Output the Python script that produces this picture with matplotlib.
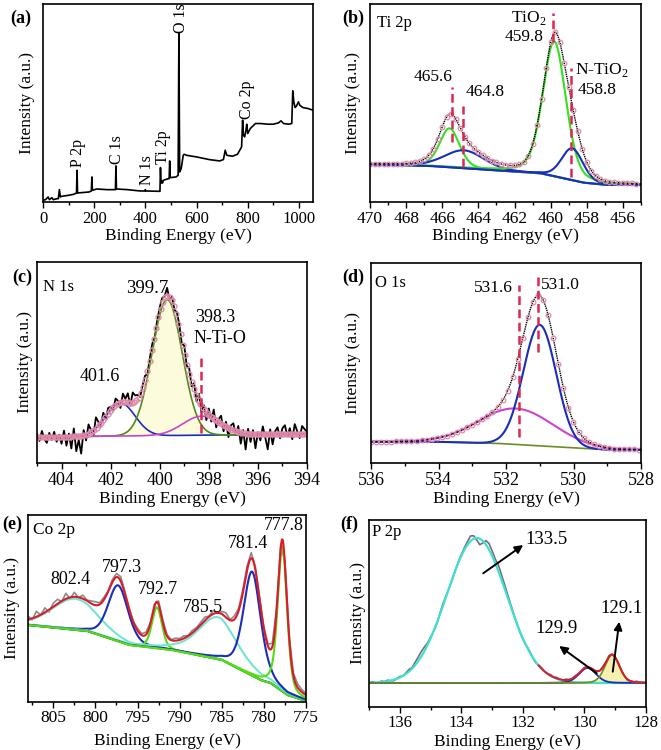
import numpy as np
import matplotlib
matplotlib.use("Agg")
import matplotlib.pyplot as plt
from matplotlib.ticker import MultipleLocator

plt.rcParams['font.family'] = ['Liberation Serif', 'DejaVu Serif']
plt.rcParams['mathtext.fontset'] = 'custom'
plt.rcParams['mathtext.rm'] = 'Liberation Serif'

# ---------------- data ----------------
# (a) survey spectrum
survey_be = [0, 10, 20, 25, 35, 40, 55, 60, 64, 68, 72, 100, 120, 131, 133, 135, 150, 180, 189, 191, 193,
             210, 250, 283, 285, 287, 330, 380, 398, 400, 402, 455, 457, 459, 461, 463, 465, 467, 470, 490,
             493, 495, 497, 520, 528, 531, 534, 540, 548, 552, 560, 600, 650, 690, 705, 712, 718, 740, 760,
             776, 780, 783, 788, 793, 796, 800, 810, 830, 850, 880, 900, 920, 930, 940, 960, 972, 976, 980,
             985, 990, 998, 1003, 1015, 1035, 1055]
survey_int = [5, 7, 15, 7, 13, 7, 10, 10, 37, 15, 17, 20, 23, 27, 95, 27, 28, 30, 33, 75, 35,
              39, 37, 37, 108, 39, 37, 33, 33, 37, 33, 32, 32, 103, 60, 57, 62, 57, 65, 70,
              70, 123, 73, 75, 80, 505, 90, 100, 140, 143, 140, 135, 127, 123, 127, 155, 140, 137, 143,
              165, 245, 200, 195, 215, 233, 205, 220, 235, 235, 233, 233, 237, 243, 235, 233, 235, 333, 300,
              283, 287, 300, 290, 283, 280, 275]
survey_labels = ["P 2p", "C 1s", "N 1s", "Ti 2p", "O 1s", "Co 2p"]
survey_label_be = [135, 290, 406, 467, 540, 796]
survey_label_int = [105, 115, 50, 115, 505, 250]

# (b) Ti 2p
ti_centers = [465.6, 464.8, 459.8, 458.8]
ti_heights = [39, 18, 135, 32]
ti_fwhm = [1.3, 2.6, 1.5, 1.4]
ti_eta = [0.3, 0.2, 0.3, 0.2]
ti_bg_be = [470, 466.7, 464.8, 462, 460.6, 459.3, 458.2, 456.9, 455]
ti_bg_int = [37.7, 36, 33.7, 30.3, 28.7, 23.7, 19.3, 17, 17]

# (c) N 1s
n_centers = [401.6, 399.7, 398.3]
n_heights = [33, 136, 19]
n_fwhm = [1.4, 1.45, 1.8]
n_bg_be = [405, 394]
n_bg_int = [26, 29]
n_raw_be_step = 0.1
n_residual = [3, -4, 6, -2, -6, 4, -3, 5, -5, 2, -7,
              6, -9, 3, -12, 8, -15, -4, -18, 5, -6,
              9, 2, -5, 11, 4, -3, 7, -2, 5, 3,
              -4, 6, 2, -6, 8, 3, 9, -3, 10, 6,
              4, -2, 3, 5, -3, 2, 4, -2, 3, 5,
              6, 2, 8, -3, 4, -2, 5, 3, -4, 6,
              -3, 5, -4, 7, -5, 8, -6, 4, -8, 6,
              -5, 9, -7, 3, 8, -6, 5, -9, 4, 7,
              -4, 6, -11, 3, -16, 5, -8, 4, -14, 2,
              -6, 8, -3, -15, 5, -10, 3, 7, -4, 6,
              9, -2, 6, -5, 10, 3, -4, 8, 5, 2]

# (d) O 1s
o_centers = [531.7, 531.0]
o_heights = [36, 121]
o_fwhm = [2.6, 1.15]
o_bg_be = [536, 534.2, 532.3, 530.3, 529, 528]
o_bg_int = [21.3, 21.3, 19.7, 15.7, 13.3, 13.3]

# (e) Co 2p
co_centers = [802.4, 797.3, 792.7, 785.5, 781.4, 777.8]
co_heights = [31, 56, 41, 42, 104, 145]
co_fwhm = [6.5, 2.8, 1.4, 5.5, 2.4, 1.3]
co_eta = [0.2, 0.3, 0.3, 0.5, 0.4, 0.4]
co_bg_be = [808, 801, 796, 791, 785, 780.4, 779.2, 777.2, 775]
co_bg_int = [77, 71, 57, 52, 42, 22, 19, 7, 1]
co_residual = [2, -3, 4, -2, 3, -4, 2, 3, -2, 4,
               -3, 3, -2, 2, -1, 1, 2, 0, 1, -1,
               1, 2, 3, 1, 0, -1, 1, 0, 1, 0,
               1, 2, 1, 0, -1, 1, 0, 1, -1, 1,
               0, 1, 2, -1, 2, -2, 1, 3, -1, 2,
               1, 2, 3, 4, 2, 1, 0, 1, 2, 1,
               2, 1, 0, 1, 2, 1, 0]

# (f) P 2p
p_centers = [133.5, 129.9, 129.1]
p_heights = [145, 15, 28]
p_fwhm = [2.3, 0.65, 0.55]
p_eta = [0.0, 0.2, 0.2]
p_bg = 24
p_residual = [0, 1, 0, -1, 1, 0, 1, 0, -1, 0,
              1, 0, 1, 2, 1, 3, 4, 5, 4, 2,
              1, 0, -1, 1, 2, 1, 0, -1, 0, 1,
              1, 2, 3, 5, 3, -2, -6, -2, 4, 6,
              5, 4, 6, 5, 4, 3, 2, 1, 0, -1,
              -1, 0, 1, 0, -1, 0, 1, 0, 0, 1,
              0, 1, 0, -1, 1, 0, 0, 1, 0, 0,
              1, 0, 0, -1, 0, 0, 1, 0, 1, 0,
              0, 1, 0, 0, -1, 0, 0, 1, 0, 0,
              0]


def pv(x, c, a, w, eta=0.0):
    g = np.exp(-4 * np.log(2) * ((x - c) / w) ** 2)
    l = 1.0 / (1 + 4 * ((x - c) / w) ** 2)
    return a * ((1 - eta) * g + eta * l)


# ---------------- figure ----------------
W, H = 661, 750
fig = plt.figure(figsize=(W / 100, H / 100), dpi=100)


def add_ax(l, t, r, b):
    return fig.add_axes([l / W, 1 - b / H, (r - l) / W, (b - t) / H])


FS = 12.5      # tick and axis labels
TFS = 12       # element titles
NFS = 12.5     # peak numbers
RED = '#dc2850'
BLUE = '#1a2dbb'
PINK = '#e08aa8'


def style(ax, xlim, ylim, major, minor, tfs=FS, pad=2.5):
    ax.set_xlim(*xlim)
    ax.set_ylim(*ylim)
    ax.xaxis.set_major_locator(MultipleLocator(major))
    ax.xaxis.set_minor_locator(MultipleLocator(minor))
    ax.set_yticks([])
    ax.tick_params(axis='x', which='major', direction='out', length=4, width=1, pad=pad, labelsize=tfs)
    ax.tick_params(axis='x', which='minor', direction='out', length=2.5, width=1)
    for s in ax.spines.values():
        s.set_linewidth(1.2)


def ftext(x, y, s, **kw):
    fig.text(x / W, 1 - y / H, s, **kw)


def vdash(ax, x, y0, y1):
    ax.plot([x, x], [y0, y1], color=RED, lw=1.8, ls=(0, (3.5, 1.8)), zorder=6)


# ---- (a)
ax = add_ax(43, 4, 313, 202)
ax.plot(survey_be, survey_int, color='black', lw=1.2)
for lab, xb, yb in zip(survey_labels, survey_label_be, survey_label_int):
    ax.text(xb, yb, lab, rotation=90, ha='center', va='bottom', fontsize=11.5)
style(ax, (0, 1055), (0, 593), 200, 100, tfs=12)

# ---- (b)
ax = add_ax(370, 4, 641, 202)
x = np.linspace(470, 455, 600)
bg = np.interp(x, ti_bg_be[::-1], ti_bg_int[::-1])
comps = [pv(x, c, a, w, e) for c, a, w, e in zip(ti_centers, ti_heights, ti_fwhm, ti_eta)]
env = bg + sum(comps)
ax.plot(x, bg, color=BLUE, lw=1.3)
ti_cols = ['#33e022', BLUE, '#33e022', BLUE]
for comp, col in zip(comps, ti_cols):
    ax.plot(x, bg + comp, color=col, lw=1.5)
ax.plot(x, env, color='black', lw=1.0, ls=(0, (1, 0.6)))
xc = np.arange(470, 455, -0.25)
bgc = np.interp(xc, ti_bg_be[::-1], ti_bg_int[::-1])
envc = bgc + sum(pv(xc, c, a, w, e) for c, a, w, e in zip(ti_centers, ti_heights, ti_fwhm, ti_eta))
ax.plot(xc, envc, ls='none', marker='o', ms=3.3, mfc='none', mec=PINK, mew=0.9)
vdash(ax, 465.45, 60, 115)
vdash(ax, 464.84, 35, 96)
vdash(ax, 459.89, 160, 189)
vdash(ax, 458.9, 25, 134)
ax.text(469.6, 178.7, 'Ti 2p', ha='left', va='center', fontsize=TFS)
ax.text(461.24, 183.7, 'TiO$_2$', ha='center', va='center', fontsize=NFS)
ax.text(461.5, 165.3, '459.8', ha='center', va='center', fontsize=NFS)
ax.text(466.5, 124.7, '465.6', ha='center', va='center', fontsize=NFS)
ax.text(463.64, 110.3, '464.8', ha='center', va='center', fontsize=NFS)
ax.text(457.18, 132, 'N-TiO$_2$', ha='center', va='center', fontsize=NFS)
ax.text(457.45, 112, '458.8', ha='center', va='center', fontsize=NFS)
style(ax, (470, 455), (0, 198), 2, 1)

# ---- (c)
ax = add_ax(37, 262, 307, 463)
x = np.linspace(405, 394, 600)
bg = np.interp(x, n_bg_be[::-1], n_bg_int[::-1])
comps = [pv(x, c, a, w) for c, a, w in zip(n_centers, n_heights, n_fwhm)]
ax.fill_between(x, bg, bg + comps[1], color='#fcfcdc', lw=0)
xr = 405 - n_raw_be_step * np.arange(len(n_residual))
bgr = np.interp(xr, n_bg_be[::-1], n_bg_int[::-1])
envr = bgr + sum(pv(xr, c, a, w) for c, a, w in zip(n_centers, n_heights, n_fwhm))
ax.plot(xr, envr + np.array(n_residual), color='black', lw=1.3)
n_cols = [BLUE, '#4d8c1a', '#cc44cc']
for comp, col in zip(comps, n_cols):
    ax.plot(x, bg + comp, color=col, lw=1.2)
xc = np.arange(405, 394, -0.09)
bgc = np.interp(xc, n_bg_be[::-1], n_bg_int[::-1])
envc = bgc + sum(pv(xc, c, a, w) for c, a, w in zip(n_centers, n_heights, n_fwhm))
ax.plot(xc, envc, ls='none', marker='o', ms=3.5, mfc='none', mec=PINK, mew=1.0)
vdash(ax, 398.33, 30, 108)
ax.text(404.74, 176.3, 'N 1s', ha='left', va='center', fontsize=TFS)
ax.text(400.53, 174.7, '399.7', ha='center', va='center', fontsize=13.5)
ax.text(397.75, 145.7, '398.3', ha='center', va='center', fontsize=13)
ax.text(397.55, 124.7, 'N-Ti-O', ha='center', va='center', fontsize=13)
ax.text(402.43, 86.3, '401.6', ha='center', va='center', fontsize=13)
style(ax, (405, 394), (0, 201), 2, 1, tfs=13)

# ---- (d)
ax = add_ax(371, 263, 641, 463)
x = np.linspace(536, 528, 600)
bg = np.interp(x, o_bg_be[::-1], o_bg_int[::-1])
comps = [pv(x, c, a, w) for c, a, w in zip(o_centers, o_heights, o_fwhm)]
env = bg + sum(comps)
ax.plot(x, bg, color='#6b8e23', lw=1.2)
ax.plot(x, bg + comps[0], color='#cc44cc', lw=1.5)
ax.plot(x, bg + comps[1], color=BLUE, lw=1.5)
ax.plot(x, env, color='black', lw=1.0, ls=(0, (1, 0.6)))
xc = np.arange(536, 528, -0.15)
bgc = np.interp(xc, o_bg_be[::-1], o_bg_int[::-1])
envc = bgc + sum(pv(xc, c, a, w) for c, a, w in zip(o_centers, o_heights, o_fwhm))
ax.plot(xc, envc, ls='none', marker='o', ms=3.3, mfc='none', mec=PINK, mew=0.9)
vdash(ax, 531.62, 26, 178)
vdash(ax, 531.06, 111, 190)
ax.text(535.88, 179.7, 'O 1s', ha='left', va='center', fontsize=TFS)
ax.text(532.38, 174.7, '531.6', ha='center', va='center', fontsize=NFS)
ax.text(530.4, 178, '531.0', ha='center', va='center', fontsize=NFS)
style(ax, (536, 528), (0, 200), 2, 1, tfs=13)

# ---- (e)
ax = add_ax(28, 515, 306, 702)
x = np.linspace(808, 775, 800)
bg = np.interp(x, co_bg_be[::-1], co_bg_int[::-1])
comps = [pv(x, c, a, w, e) for c, a, w, e in zip(co_centers, co_heights, co_fwhm, co_eta)]
env = bg + sum(comps)
xr = 808 - 0.5 * np.arange(len(co_residual))
bgr = np.interp(xr, co_bg_be[::-1], co_bg_int[::-1])
envr = bgr + sum(pv(xr, c, a, w, e) for c, a, w, e in zip(co_centers, co_heights, co_fwhm, co_eta))
ax.plot(xr, envr + np.array(co_residual) + 1.5, color='#8a8a8a', lw=1.2)
ax.plot(x, bg, color='#66d022', lw=1.4)
co_cols = ['#70e6d0', BLUE, '#55dd11', '#70e6d0', BLUE, '#55dd11']
for comp, col in zip(comps, co_cols):
    ax.plot(x, bg + comp, color=col, lw=1.5)
ax.plot(x, env, color='#dd1a2a', lw=1.5)
ax.text(807.37, 172, 'Co 2p', ha='left', va='center', fontsize=12.5)
for lab, xb, yb in zip(['802.4', '797.3', '792.7', '785.5', '781.4', '777.8'],
                       [803.0, 796.9, 792.53, 787.19, 781.85, 777.69],
                       [122, 134.7, 112.7, 94.7, 158.7, 176]):
    ax.text(xb, yb, lab, ha='center', va='center', fontsize=13)
style(ax, (808, 775), (0, 187), 5, 2.5, pad=2)

# ---- (f)
ax = add_ax(369, 520, 646, 707)
x = np.linspace(137, 128, 600)
comps = [pv(x, c, a, w, e) for c, a, w, e in zip(p_centers, p_heights, p_fwhm, p_eta)]
env = p_bg + sum(comps)
xr = 137 - 0.1 * np.arange(len(p_residual))
envr = p_bg + sum(pv(xr, c, a, w, e) for c, a, w, e in zip(p_centers, p_heights, p_fwhm, p_eta))
ax.fill_between(x, p_bg, p_bg + comps[2], color='#f8f0b0', lw=0)
ax.axhline(p_bg, color='#6b8e23', lw=1.2)
ax.plot(xr, envr + np.array(p_residual), color='#70707a', lw=1.2)
ax.plot(x, p_bg + comps[0], color='#40e0d0', lw=1.6)
ax.plot(x, p_bg + comps[1], color=BLUE, lw=1.3)
ax.plot(x, p_bg + comps[2], color='#6b8e23', lw=1.2)
m = x <= 131.5
ax.plot(x[m], env[m], color='#dd1a2a', lw=1.4)
aprops = dict(arrowstyle='-|>', color='black', lw=1.4, mutation_scale=12, shrinkA=0, shrinkB=0)
ax.annotate('', xy=(131.99, 162), xytext=(133.29, 133.7), arrowprops=aprops)
ax.annotate('', xy=(130.82, 61), xytext=(129.6, 33.7), arrowprops=aprops)
ax.annotate('', xy=(128.87, 85.3), xytext=(129.08, 35.3), arrowprops=aprops)
ax.text(131.23, 167, '133.5', ha='center', va='center', fontsize=13.5)
ax.text(130.9, 78.7, '129.9', ha='center', va='center', fontsize=13.5)
ax.text(128.79, 98.7, '129.1', ha='center', va='center', fontsize=13.5)
ax.text(136.91, 175.3, 'P 2p', ha='left', va='center', fontsize=12)
style(ax, (137, 128), (0, 187), 2, 1, tfs=12, pad=1.5)

# ---- labels
for px, py in [(27, 103), (353, 103), (25, 362), (353, 363), (12, 608), (358, 613)]:
    ftext(px, py, 'Intensity (a.u.)', rotation=90, ha='center', va='center', fontsize=FS)
for px, py in [(178, 236), (505, 236), (172, 499), (506, 499)]:
    ftext(px, py, 'Binding Energy (eV)', ha='center', va='center', fontsize=FS)
ftext(167, 741, 'Binding Energy (eV)', ha='center', va='center', fontsize=FS)
ftext(507, 742, 'Binding Energy (eV)', ha='center', va='center', fontsize=FS)
for lab, px, py in [('(a)', 21, 18), ('(b)', 353, 18), ('(c)', 22, 277), ('(d)', 353, 277),
                    ('(e)', 12, 524), ('(f)', 349, 524)]:
    ftext(px, py, lab, ha='center', va='center', fontsize=13, fontweight='bold')

fig.savefig('out.png', dpi=100)
